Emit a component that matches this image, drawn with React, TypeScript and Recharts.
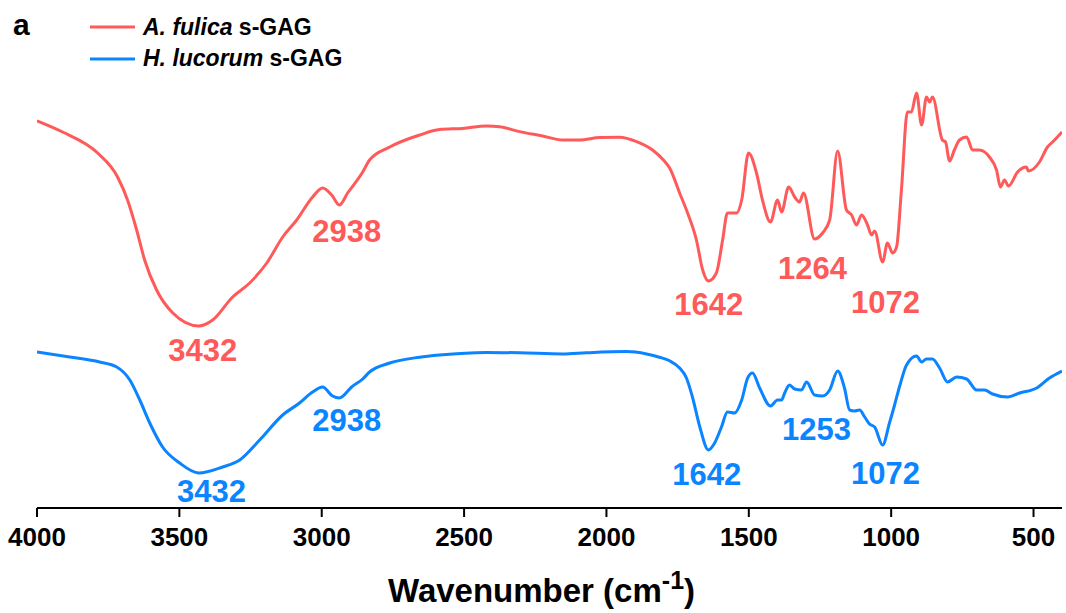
import { LineChart, Line, XAxis, YAxis, ReferenceDot } from 'recharts';

// FTIR spectra, A. fulica vs H. lucorum s-GAG (transmittance, offset, arbitrary units)
const fulicaWavenumber = [
  4000, 3910, 3787, 3717, 3682, 3650, 3622, 3580, 3523, 3432, 3383, 3313, 3253, 3193, 3137, 3088,
  3032, 2997, 2965, 2938, 2909, 2856, 2832, 2761, 2656, 2586, 2505, 2421, 2375, 2305, 2224, 2154,
  2094, 2024, 1954, 1894, 1838, 1800, 1778, 1743, 1715, 1684, 1662, 1642, 1614, 1592, 1575, 1543,
  1525, 1501, 1473, 1452, 1424, 1399, 1385, 1360, 1339, 1322, 1308, 1269, 1241, 1216, 1188, 1157,
  1139, 1122, 1104, 1083, 1069, 1058, 1030, 1013, 995, 981, 964, 943, 929, 911, 893, 876,
  865, 855, 820, 809, 795, 778, 760, 735, 714, 690, 655, 630, 616, 602, 588, 556,
  525, 518, 479, 451, 433, 400,
];
const fulicaTransmittance = [
  96.8, 94.0, 88.75, 82.75, 77, 69.5, 62, 54.5, 48.75, 45.5, 47, 52.75, 56.25, 61.25, 67.75, 72,
  77.75, 80, 78.25, 75.75, 78.75, 84, 87, 90.25, 93.25, 94.6, 94.9, 95.5, 95.3, 94.1, 93, 92,
  92, 92.6, 92.7, 91.6, 89.5, 87, 85, 78.75, 73.75, 67, 59.5, 56.75, 58.75, 67, 73.75, 73.75,
  77, 88.75, 83.75, 77, 71.5, 77, 74, 80.25, 77.75, 76.5, 78.75, 67.25, 68.75, 72, 89.25, 74.5,
  73.25, 70.75, 73.25, 70.75, 68.25, 69.25, 61.5, 66.25, 63.75, 65.25, 79.5, 99, 99, 103.75, 95.75, 102.75,
  101.5, 102.75, 92, 91.5, 86.75, 89.5, 92, 92.75, 89.5, 89.5, 87.75, 84.5, 80.25, 82, 80.5, 84,
  85.25, 84.25, 86.5, 90.25, 91.5, 94,
];

const lucorumWavenumber = [
  4000, 3885, 3780, 3720, 3674, 3639, 3604, 3559, 3499, 3432, 3348, 3288, 3218, 3137, 3078, 3032,
  2997, 2962, 2938, 2895, 2856, 2832, 2761, 2656, 2586, 2421, 2305, 2154, 2070, 1929, 1859, 1814,
  1778, 1743, 1719, 1698, 1672, 1642, 1620, 1596, 1575, 1550, 1525, 1504, 1487, 1462, 1424, 1399,
  1385, 1374, 1357, 1339, 1315, 1297, 1269, 1241, 1216, 1188, 1164, 1146, 1129, 1111, 1093, 1076,
  1058, 1030, 1006, 988, 971, 946, 911, 893, 876, 855, 830, 802, 770, 735, 700, 672,
  644, 591, 549, 489, 444, 400,
];
const lucorumTransmittance = [
  39, 37.75, 36.5, 35.25, 32, 27, 21.25, 15.25, 11.25, 8.75, 10.25, 12, 17, 23.25, 26.25, 29,
  30.25, 28, 27.5, 30.25, 32.25, 34, 36.25, 37.7, 38.25, 38.9, 38.8, 38.5, 38.8, 39.1, 38.5, 37.7,
  36.8, 35, 32.5, 27.75, 20.25, 14.5, 16.25, 20.25, 24, 23.75, 27, 32.5, 33.75, 30, 25.5, 27,
  27, 28.75, 30.75, 29.75, 29.5, 31.5, 28.25, 28, 29.5, 34.25, 30, 24.5, 24.25, 24.5, 22.75, 21,
  20.25, 15.75, 21.25, 25.75, 30.25, 35.75, 38, 36.5, 37.25, 37.25, 35, 31.5, 32.75, 32.25, 29.5, 29.5,
  28.5, 27.75, 28.75, 30, 32.5, 34.25,
];

const xTicks = [4000, 3500, 3000, 2500, 2000, 1500, 1000, 500];

// peak labels: text, wavenumber under which it is centred, baseline height
const fulicaPeakText = ['3432', '2938', '1642', '1264', '1072'];
const fulicaPeakAt = [3418, 2912, 1641, 1276, 1020];
const fulicaPeakBase = [36.75, 66.5, 48.25, 57.25, 48.75];

const lucorumPeakText = ['3432', '2938', '1642', '1253', '1072'];
const lucorumPeakAt = [3387, 2912, 1648, 1262, 1020];
const lucorumPeakBase = [1.5, 19.25, 5.75, 17, 6];

const RED = '#FF5A5A';
const BLUE = '#0A84FF';
const FONT = '"Liberation Sans", Arial, sans-serif';

const fulica = fulicaWavenumber.map((wn, i) => ({ wn, t: fulicaTransmittance[i] }));
const lucorum = lucorumWavenumber.map((wn, i) => ({ wn, t: lucorumTransmittance[i] }));

const peakLabel = (color: string) => (props: any) => {
  const vb = props.viewBox || {};
  const x = (vb.x || 0) + (vb.width || 0) / 2;
  const y = (vb.y || 0) + (vb.height || 0) / 2;
  return (
    <text x={x} y={y} textAnchor="middle" fill={color} fontSize={31} fontWeight={700} fontFamily={FONT}>
      {props.value}
    </text>
  );
};

const AxisTitle = (props: any) => {
  const vb = props.viewBox || { x: 0, y: 0, width: 0 };
  return (
    <text x={vb.x + vb.width / 2 - 8} y={vb.y + 94} textAnchor="middle" fill="#000"
      fontSize={33} fontWeight={700} fontFamily={FONT}>
      Wavenumber (cm
      <tspan fontSize={25} dy={-13}>-1</tspan>
      <tspan dy={13}>)</tspan>
    </text>
  );
};

// legend + panel letter, drawn over the top-left corner
const LegendBox = () => (
  <svg width={400} height={80} style={{ position: 'absolute', top: 0, left: 0 }}>
    <text x={13} y={35} fontSize={30} fontWeight={700} fontFamily={FONT} fill="#000">a</text>
    <line x1={90} x2={135} y1={27} y2={27} stroke={RED} strokeWidth={3} />
    <text x={143} y={35} fontSize={23} fontWeight={700} fontFamily={FONT} fill="#000">
      <tspan fontStyle="italic">A. fulica</tspan> s-GAG
    </text>
    <line x1={90} x2={135} y1={59} y2={59} stroke={BLUE} strokeWidth={3} />
    <text x={143} y={66} fontSize={23} fontWeight={700} fontFamily={FONT} fill="#000">
      <tspan fontStyle="italic">H. lucorum</tspan> s-GAG
    </text>
  </svg>
);

export default function App() {
  return (
    <div style={{ position: 'relative', width: 1066, height: 613, background: '#fff' }}>
      <style>{`body{margin:0}`}</style>
      <LineChart width={1066} height={613} margin={{ top: 88, right: 4, bottom: 45, left: 37 }}>
        <XAxis
          type="number"
          dataKey="wn"
          domain={[400, 4000]}
          reversed
          allowDataOverflow
          ticks={xTicks}
          height={60}
          tickSize={9}
          tickMargin={11}
          axisLine={{ stroke: '#000', strokeWidth: 2 }}
          tickLine={{ stroke: '#000', strokeWidth: 2 }}
          tick={{ fill: '#000', fontSize: 26, fontWeight: 700, fontFamily: FONT }}
          label={{ content: AxisTitle }}
        />
        <YAxis type="number" domain={[0, 105]} hide allowDataOverflow />
        <Line data={fulica} dataKey="t" name="A. fulica s-GAG" type="monotone" stroke={RED}
          strokeWidth={3} dot={false} isAnimationActive={false} />
        <Line data={lucorum} dataKey="t" name="H. lucorum s-GAG" type="monotone" stroke={BLUE}
          strokeWidth={3} dot={false} isAnimationActive={false} />
        {fulicaPeakText.map((txt, i) => (
          <ReferenceDot key={'f' + i} x={fulicaPeakAt[i]} y={fulicaPeakBase[i]} r={0}
            fill="none" stroke="none" label={{ value: txt, content: peakLabel(RED) }} />
        ))}
        {lucorumPeakText.map((txt, i) => (
          <ReferenceDot key={'l' + i} x={lucorumPeakAt[i]} y={lucorumPeakBase[i]} r={0}
            fill="none" stroke="none" label={{ value: txt, content: peakLabel(BLUE) }} />
        ))}
      </LineChart>
      <LegendBox />
    </div>
  );
}
